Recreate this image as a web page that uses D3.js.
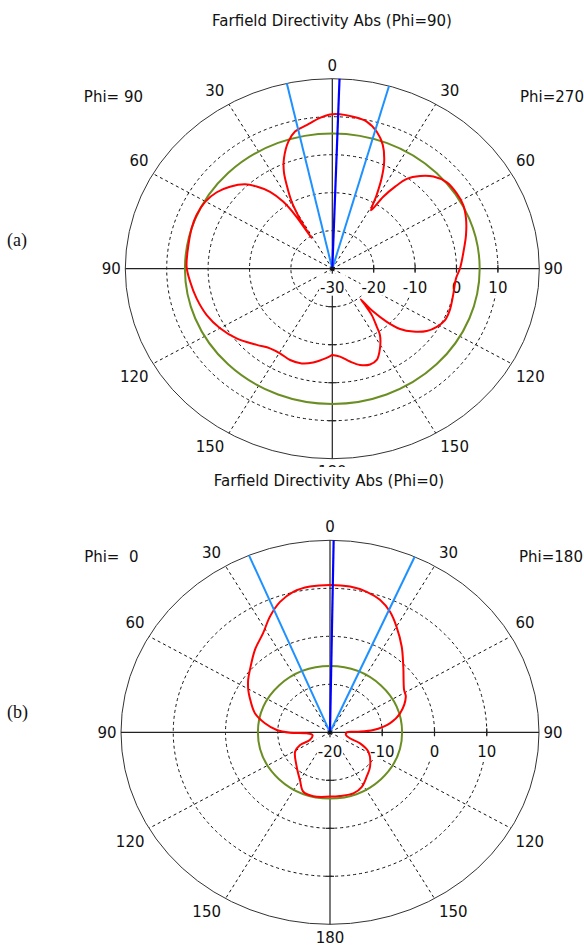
<!DOCTYPE html>
<html><head><meta charset="utf-8">
<script src="https://cdn.jsdelivr.net/npm/d3@7"></script>
<style>
body{margin:0;background:#fff}
svg{display:block}
text{font-family:"DejaVu Sans",Verdana,sans-serif;font-size:15px;fill:#111;white-space:pre}
</style>
</head><body>
<svg id="c" width="584" height="949"></svg>
<script>
// ---------- data ----------
const angleTicks = [0, 30, 60, 90, 120, 150, 180];
const spokeAngles = [-150, -120, -60, -30, 30, 60, 120, 150];

// (a) Phi = 90 cut : theta (deg, right side positive) and directivity (dBi)
const thetaA = [-180,-176.7,-169.4,-163.5,-157.0,-150.4,-144.3,-137.7,-128.4,-120.0,-111.9,-103.4,-95.7,-89.1,-79.8,-72.6,-66.7,-60.2,-54.2,-48.9,-43.5,-40.2,-36.6,-33.9,-32.4,-31.8,-31.3,-30.6,-29.1,-26.6,-24.6,-21.9,-17.6,-14.0,-9.3,-4.3,-0.8,2.6,7.2,12.1,16.6,20.5,24.0,26.6,28.9,31.3,33.0,35.1,37.3,41.0,45.2,50.6,56.6,62.1,67.7,74.6,82.0,89.8,94.8,103.3,110.9,116.4,121.2,125.7,130.3,134.1,136.7,138.8,139.6,140.4,142.0,144.9,146.6,151.2,155.9,160.1,165.2,170.1,175.4,180];
const dirA   = [-7.3,-6.5,-4.9,-4.0,-3.9,-4.4,-4.2,-2.9,-0.5,1.3,2.7,3.7,4.5,5.2,5.3,5.6,5.7,5.4,4.4,2.8,0.6,-1.7,-4.8,-8.8,-13.5,-20.5,-17.0,-14.0,-9.8,-5.4,-1.9,1.3,5.1,7.2,8.3,9.8,10.6,10.7,10.3,9.6,7.6,4.8,0.8,-3.4,-7.8,-12.0,-7.4,-3.6,-0.3,2.3,4.4,5.8,6.0,5.8,4.9,3.5,2.0,0.85,0.0,0.0,0.4,0.4,-0.5,-1.9,-4.4,-7.2,-10.8,-15.0,-19.4,-17.6,-14.5,-11.3,-9.1,-6.1,-3.7,-3.2,-3.8,-5.2,-6.8,-7.3];
const ringTicksA = [-30, -20, -10, 0, 10, 20];
const mainLobeA = 2.0;
const beamA = [-12.7, 15.9];
const sideLobeA = 5.6;

// (b) Phi = 0 cut
const thetaB = [-180,-166.5,-157.6,-150.0,-138.4,-121.1,-114.7,-112.7,-99.7,-92.7,-90.6,-87.3,-81.4,-74.6,-64.3,-60.6,-55.1,-49.7,-39.9,-31.8,-25.5,-19.4,-13.5,-7.2,0,7.2,13.5,19.1,24.6,30.1,37.6,45.7,58.1,62.9,73.5,80.7,86.7,88.7,90.3,100.4,108.1,111.8,118.9,133.1,142.8,151.8,160.7,171.8,180];
const dirB   = [-6.6,-6.3,-6.6,-8.5,-10.4,-12.2,-13.7,-15.8,-16.6,-15.5,-12.3,-9.8,-7.4,-5.1,-2.9,-2.05,-0.9,0.1,2.4,4.3,6.7,8.8,10.1,10.6,10.7,10.6,10.1,9.2,7.6,5.4,2.5,-0.4,-3.3,-3.7,-6.0,-8.4,-11.7,-14.9,-16.8,-16.9,-16.0,-13.8,-11.6,-9.5,-8.4,-7.1,-6.5,-6.6,-6.6];
const ringTicksB = [-20, -10, 0, 10, 20];
const mainLobeB = 1.0;
const beamB = [-22.8, 23.9];
const sideLobeB = -6.2;

const titles = ["Farfield Directivity Abs (Phi=90)", "Farfield Directivity Abs (Phi=0)"];
const phiLeft = ["Phi= 90", "Phi=  0"];
const phiRight = ["Phi=270", "Phi=180"];
const panelTags = ["(a)", "(b)"];

// ---------- drawing ----------
const svg = d3.select("#c");
const toRad = d3.scaleLinear().domain([-180, 180]).range([-Math.PI, Math.PI]);

function drawPanel(g, cfg) {
  const {cx, cy, rx, ry} = cfg;
  const rs = d3.scaleLinear().domain([cfg.ticks[0], cfg.ticks[cfg.ticks.length - 1]]).range([0, 1]).clamp(true);
  const X = (t, v) => cx + rx * rs(v) * Math.sin(toRad(t));
  const Y = (t, v) => cy - ry * rs(v) * Math.cos(toRad(t));
  const outer = cfg.ticks[cfg.ticks.length - 1];

  // title
  g.append("text").attr("x", cfg.titleX).attr("y", cfg.titleY).attr("text-anchor", "middle").text(cfg.title);
  g.append("text").attr("x", cfg.phiLX).attr("y", cfg.phiY).attr("text-anchor", "end").attr("xml:space", "preserve").text(cfg.phiL);
  g.append("text").attr("x", cfg.phiRX).attr("y", cfg.phiY).attr("text-anchor", "start").text(cfg.phiR);
  g.append("text").attr("x", 7).attr("y", cfg.tagY).style("font-family", "'Liberation Serif','Times New Roman',serif").style("font-size", "18px").text(cfg.tag);

  // dashed rings
  g.selectAll("ellipse.ring").data(cfg.ticks.slice(1, -1)).join("ellipse")
    .attr("cx", cx).attr("cy", cy)
    .attr("rx", d => rx * rs(d)).attr("ry", d => ry * rs(d))
    .attr("fill", "none").attr("stroke", "#111").attr("stroke-width", 1).attr("stroke-dasharray", "3,3");
  // dashed spokes
  g.selectAll("line.spoke").data(spokeAngles).join("line")
    .attr("x1", cx).attr("y1", cy)
    .attr("x2", d => X(d, outer)).attr("y2", d => Y(d, outer))
    .attr("stroke", "#111").attr("stroke-width", 1).attr("stroke-dasharray", "3,3");
  // outer ellipse
  g.append("ellipse").attr("cx", cx).attr("cy", cy).attr("rx", rx).attr("ry", ry)
    .attr("fill", "none").attr("stroke", "#333").attr("stroke-width", 1);
  // axes
  g.append("line").attr("x1", cx - rx).attr("x2", cx + rx).attr("y1", cy).attr("y2", cy).attr("stroke", "#222").attr("stroke-width", 1.2);
  g.append("line").attr("x1", cx).attr("x2", cx).attr("y1", cy - ry).attr("y2", cy + ry).attr("stroke", "#222").attr("stroke-width", 1.2);
  // ticks
  const inner = cfg.ticks.slice(1, -1);
  g.selectAll("line.tx").data(inner).join("line")
    .attr("x1", d => X(90, d)).attr("x2", d => X(90, d)).attr("y1", cy - 4).attr("y2", cy + 4)
    .attr("stroke", "#222").attr("stroke-width", 1.2);
  g.selectAll("line.ty").data(inner).join("line")
    .attr("y1", d => Y(180, d)).attr("y2", d => Y(180, d)).attr("x1", cx - 4).attr("x2", cx + 4)
    .attr("stroke", "#222").attr("stroke-width", 1.2);

  // ring value labels with white background
  const lab = g.selectAll("g.rl").data(cfg.ticks.slice(0, -1)).join("g");
  lab.each(function(d) {
    const gg = d3.select(this);
    const t = gg.append("text").attr("x", X(90, d)).attr("y", cy + 24.5).attr("text-anchor", "middle").text(d);
    const bb = t.node().getBBox();
    gg.insert("rect", "text").attr("x", bb.x - 1).attr("width", bb.width + 2)
      .attr("y", cy + 5).attr("height", 22).attr("fill", "#fff");
  });

  // angle labels (both sides)
  const angLab = [];
  angleTicks.forEach(a => {
    if (a === 0 || a === 180) angLab.push(a);
    else { angLab.push(-a); angLab.push(a); }
  });
  g.selectAll("text.al").data(angLab).join("text")
    .attr("x", d => {
      const px = X(d, outer), s = Math.sin(toRad(d));
      return Math.abs(s) < 0.01 ? px : px + (s > 0 ? 4.5 : -4.5);
    })
    .attr("y", d => {
      const py = Y(d, outer), c = Math.cos(toRad(d));
      if (Math.abs(c) < 0.01) return py + 5.5;
      return c > 0 ? py - 8 : py + 18.5;
    })
    .attr("text-anchor", d => {
      const s = Math.sin(toRad(d));
      return Math.abs(s) < 0.01 ? "middle" : (s > 0 ? "start" : "end");
    })
    .text(d => Math.abs(d));

  // side lobe level circle
  g.append("ellipse").attr("cx", cx).attr("cy", cy).attr("rx", rx * rs(cfg.side)).attr("ry", ry * rs(cfg.side))
    .attr("fill", "none").attr("stroke", "#6b8e23").attr("stroke-width", 2);
  // pattern
  const line = d3.line().x(d => X(d[0], d[1])).y(d => Y(d[0], d[1])).curve(d3.curveCatmullRom.alpha(0.5));
  g.append("path").datum(d3.zip(cfg.theta, cfg.dir)).attr("d", line)
    .attr("fill", "none").attr("stroke", "#ff0000").attr("stroke-width", 2).attr("stroke-linejoin", "round");
  // beamwidth lines
  g.selectAll("line.bw").data(cfg.beam).join("line")
    .attr("x1", cx).attr("y1", cy).attr("x2", d => X(d, outer)).attr("y2", d => Y(d, outer))
    .attr("stroke", "#1e90ff").attr("stroke-width", 2);
  // main lobe direction
  g.append("line").attr("x1", cx).attr("y1", cy).attr("x2", X(cfg.main, outer)).attr("y2", Y(cfg.main, outer))
    .attr("stroke", "#0000ff").attr("stroke-width", 2.2);
  g.append("circle").attr("cx", cx).attr("cy", cy).attr("r", 2).attr("fill", "#111");
}

const gA = svg.append("g");
drawPanel(gA, {cx: 332.3, cy: 268.7, rx: 207, ry: 190, ticks: ringTicksA,
  theta: thetaA, dir: dirA, main: mainLobeA, beam: beamA, side: sideLobeA,
  title: titles[0], titleX: 332, titleY: 26, phiL: phiLeft[0], phiR: phiRight[0], phiLX: 143, phiRX: 520, phiY: 101.5,
  tag: panelTags[0], tagY: 246});

const gB = svg.append("g");
gB.append("rect").attr("x", 0).attr("y", 467).attr("width", 584).attr("height", 482).attr("fill", "#fff");
drawPanel(gB, {cx: 330, cy: 732.3, rx: 209, ry: 192, ticks: ringTicksB,
  theta: thetaB, dir: dirB, main: mainLobeB, beam: beamB, side: sideLobeB,
  title: titles[1], titleX: 329, titleY: 486, phiL: phiLeft[1], phiR: phiRight[1], phiLX: 138.5, phiRX: 519, phiY: 562,
  tag: panelTags[1], tagY: 718});
</script>
</body></html>
